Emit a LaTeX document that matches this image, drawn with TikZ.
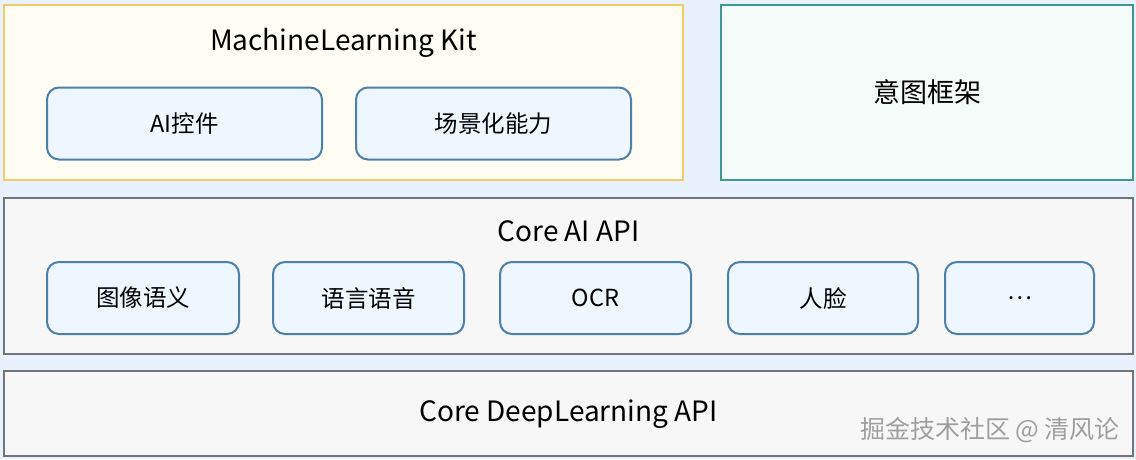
\documentclass[tikz,border=0pt]{standalone}
\usepackage{fontspec}
\setmainfont{Noto Sans CJK SC}
\usetikzlibrary{positioning}

\definecolor{pagebg}{HTML}{E9F1FC}
\definecolor{kitfill}{HTML}{FFFCF3}
\definecolor{kitline}{HTML}{F2CC6A}
\definecolor{intentfill}{HTML}{F4FBF8}
\definecolor{intentline}{HTML}{3F9892}
\definecolor{corefill}{HTML}{F7F7F7}
\definecolor{coreline}{HTML}{6F757B}
\definecolor{itemfill}{HTML}{EEF6FF}
\definecolor{itemline}{HTML}{4D80A6}

\begin{document}
\begin{tikzpicture}[
  x=1pt,
  y=1pt,
  node distance=34pt,
  layer/.style={
    draw,
    line width=2pt,
    rectangle,
    inner sep=0pt
  },
  item/.style={
    draw=itemline,
    fill=itemfill,
    line width=2pt,
    rounded corners=12pt,
    minimum height=72pt,
    inner sep=0pt,
    outer sep=0pt,
    font=\fontsize{23.5}{27}\selectfont
  },
  heading/.style={
    font=\fontsize{28}{32}\selectfont,
    inner sep=0pt
  }
]
  \fill[pagebg] (0,0) rectangle (1136,-459);
  \useasboundingbox (0,0) rectangle (1136,-459);

  % top row
  \node[layer,draw=kitline,fill=kitfill,minimum width=679pt,minimum height=175pt]
    (kit) at (343.5,-92.5) {};
  \node[heading] (kittitle) at (343.5,-43) {MachineLearning Kit};
  \node[item,minimum width=275pt] (aictl) at (184.5,-123.5) {AI控件};
  \node[item,minimum width=275pt,right=of aictl] (scene) {场景化能力};

  \node[layer,draw=intentline,fill=intentfill,minimum width=412pt,minimum height=175pt,
    font=\fontsize{27}{31}\selectfont]
    (intent) at (927,-92.5) {意图框架};

  % core ai
  \node[layer,draw=coreline,fill=corefill,minimum width=1129pt,minimum height=156pt]
    (coreai) at (568.5,-276) {};
  \node[heading] (coreaititle) at (568.5,-231) {Core AI API};
  \node[item,minimum width=192pt] (image) at (143,-298) {图像语义};
  \node[item,minimum width=191pt,right=of image] (speech) {语言语音};
  \node[item,minimum width=191pt,right=36pt of speech] (ocr) {OCR};
  \node[item,minimum width=190pt,right=37pt of ocr] (face) {人脸};
  \node[item,minimum width=149pt,right=27pt of face] (more) {\dots};

  % core deep learning
  \node[layer,draw=coreline,fill=corefill,minimum width=1129pt,minimum height=85pt]
    (coredl) at (568.5,-413.5) {};
  \node[heading] (coredltitle) at (568.5,-414) {Core DeepLearning API};

  \node[font=\fontsize{25}{29}\selectfont,text=gray!75,inner sep=0pt]
    (mark) at (990,-430) {掘金技术社区 @ 清风论};
\end{tikzpicture}
\end{document}
